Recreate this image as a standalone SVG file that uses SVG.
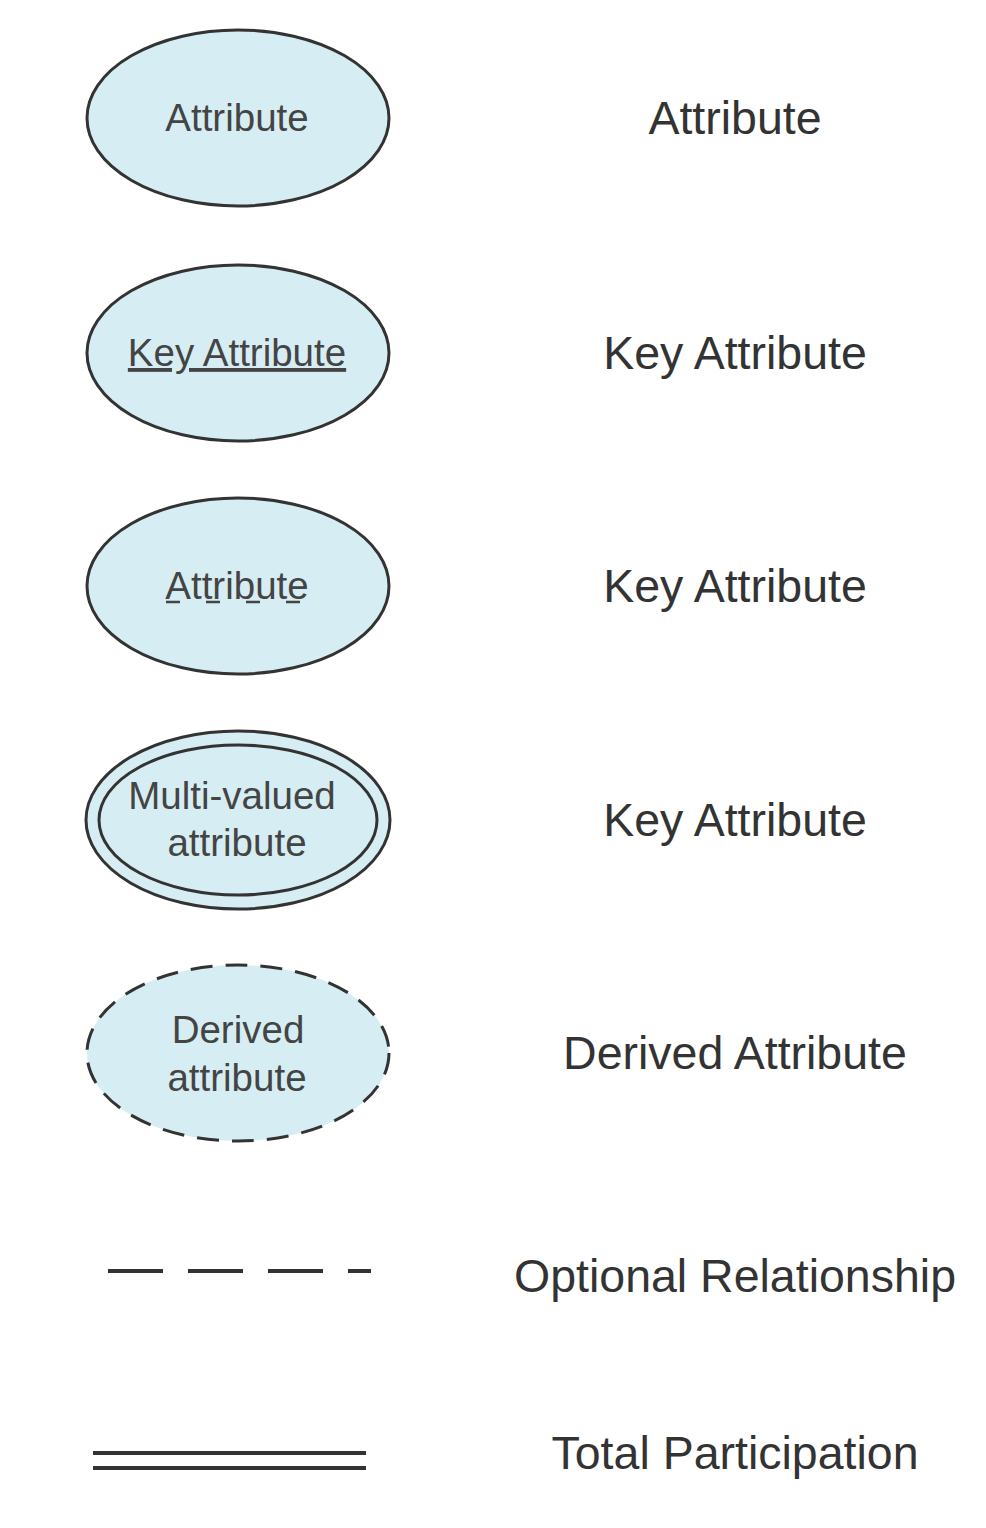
<svg xmlns="http://www.w3.org/2000/svg" width="986" height="1528" viewBox="0 0 986 1528">
<style>
.e{fill:#d6eef3;stroke:#333;stroke-width:3}
.t{font-family:"Liberation Sans",Arial,sans-serif;font-size:38.5px;fill:#444;text-anchor:middle}
.l{font-family:"Liberation Sans",Arial,sans-serif;font-size:46.5px;fill:#333;text-anchor:middle}
.ln{stroke:#333;stroke-width:4;fill:none}
</style>
<rect width="986" height="1528" fill="#fff"/>
<g id="n1"><ellipse class="e" cx="238" cy="118" rx="151" ry="88"/><text class="t" x="237" y="131">Attribute</text></g>
<g id="n2"><ellipse class="e" cx="238" cy="353" rx="151" ry="88"/><text class="t" x="237" y="366" text-decoration="underline">Key Attribute</text></g>
<g id="n3"><ellipse class="e" cx="238" cy="586" rx="151" ry="88"/><text class="t" x="237" y="599">Attribute</text><line x1="166" y1="602" x2="312" y2="602" stroke="#444" stroke-width="2.5" stroke-dasharray="14,26"/></g>
<g id="n4"><ellipse class="e" cx="238" cy="820" rx="152" ry="89"/><ellipse class="e" cx="238" cy="820" rx="139" ry="75"/><text class="t" x="232" y="809">Multi-valued</text><text class="t" x="237" y="856">attribute</text></g>
<g id="n5"><ellipse class="e" cx="238" cy="1053" rx="151" ry="88" stroke-dasharray="22,13"/><text class="t" x="238" y="1043">Derived</text><text class="t" x="237" y="1091">attribute</text></g>
<g id="connectors">
<line class="ln" x1="108" y1="1271" x2="371" y2="1271" stroke-dasharray="55,25"/>
<line class="ln" x1="93" y1="1453" x2="366" y2="1453"/>
<line class="ln" x1="93" y1="1468" x2="366" y2="1468"/>
</g>
<g id="labels">
<text class="l" x="735" y="134">Attribute</text>
<text class="l" x="735" y="369">Key Attribute</text>
<text class="l" x="735" y="602">Key Attribute</text>
<text class="l" x="735" y="836">Key Attribute</text>
<text class="l" x="735" y="1069">Derived Attribute</text>
<text class="l" x="735" y="1292">Optional Relationship</text>
<text class="l" x="735" y="1469">Total Participation</text>
</g>
</svg>
